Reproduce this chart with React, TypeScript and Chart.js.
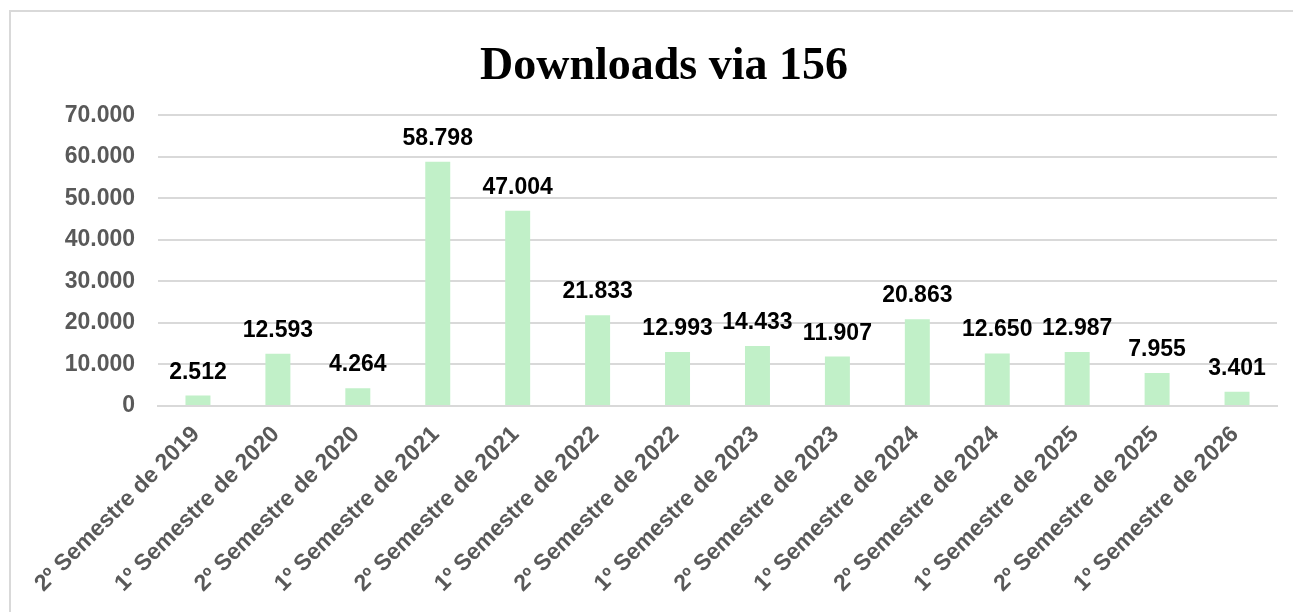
import React, { useEffect, useRef } from "react";
import { Chart, registerables } from "chart.js";

Chart.register(...registerables);

const TITLE = "Downloads via 156";
const categories = [
  "2º Semestre de 2019",
  "1º Semestre de 2020",
  "2º Semestre de 2020",
  "1º Semestre de 2021",
  "2º Semestre de 2021",
  "1º Semestre de 2022",
  "2º Semestre de 2022",
  "1º Semestre de 2023",
  "2º Semestre de 2023",
  "1º Semestre de 2024",
  "2º Semestre de 2024",
  "1º Semestre de 2025",
  "2º Semestre de 2025",
  "1º Semestre de 2026",
];
const downloads = [2512, 12593, 4264, 58798, 47004, 21833, 12993, 14433, 11907, 20863, 12650, 12987, 7955, 3401];
const yMin = 0;
const yMax = 70000;
const yStep = 10000;

const fmt = (v: number) => String(Math.round(v)).replace(/\B(?=(\d{3})+(?!\d))/g, ".");

const SANS = "'Liberation Sans', Arial, sans-serif";

const dataLabelPlugin = {
  id: "dataLabels",
  afterDatasetsDraw(chart: any) {
    const ctx = chart.ctx;
    const meta = chart.getDatasetMeta(0);
    const data = chart.data.datasets[0].data as number[];
    ctx.save();
    ctx.font = `bold 23px ${SANS}`;
    ctx.fillStyle = "#000000";
    ctx.textAlign = "center";
    ctx.textBaseline = "alphabetic";
    meta.data.forEach((bar: any, i: number) => {
      ctx.fillText(fmt(data[i]), bar.x, bar.y - 17);
    });
    ctx.restore();
  },
};

export default function App() {
  const ref = useRef<HTMLCanvasElement | null>(null);
  useEffect(() => {
    if (!ref.current) return;
    const chart = new Chart(ref.current, {
      type: "bar",
      data: {
        labels: categories,
        datasets: [
          {
            data: downloads,
            backgroundColor: "#c1f0c8",
            borderWidth: 0,
            barPercentage: 1,
            categoryPercentage: 0.3125,
          },
        ],
      },
      options: {
        animation: false,
        responsive: true,
        maintainAspectRatio: false,
        layout: { padding: { top: 0, left: 51, right: 16, bottom: 0 } },
        plugins: {
          legend: { display: false },
          tooltip: { enabled: false },
          title: {
            display: true,
            text: TITLE,
            color: "#000000",
            font: { family: "'Liberation Serif', 'Times New Roman', serif", size: 46, weight: "bold" },
            padding: { top: 40, bottom: 20 },
          },
        },
        scales: {
          x: {
            grid: { display: false, drawTicks: false },
            border: { display: true, color: "#d9d9d9", width: 2 },
            ticks: {
              color: "#595959",
              font: { family: SANS, size: 23, weight: "bold" },
              minRotation: 45,
              maxRotation: 45,
              autoSkip: false,
              padding: 15,
              labelOffset: -2,
            },
            afterFit: (scale: any) => {
              scale.height = 206;
              scale.paddingLeft = 0;
              scale.paddingRight = 0;
            },
          },
          y: {
            min: yMin,
            max: yMax,
            grid: { color: "#d9d9d9", lineWidth: 2, drawTicks: false },
            border: { display: false },
            ticks: {
              stepSize: yStep,
              color: "#595959",
              font: { family: SANS, size: 23, weight: "bold" },
              padding: 23,
              callback: (v: any) => fmt(Number(v)),
            },
            afterFit: (scale: any) => {
              scale.width = 107;
            },
          },
        },
      },
      plugins: [dataLabelPlugin],
    });
    return () => chart.destroy();
  }, []);

  return (
    <div
      style={{
        position: "fixed",
        left: 0,
        top: 0,
        width: 1293,
        height: 612,
        overflow: "hidden",
        background: "#ffffff",
      }}
    >
      <div
        style={{
          position: "absolute",
          left: 9,
          top: 10,
          width: 1320,
          height: 700,
          borderLeft: "2px solid #d9d9d9",
          borderTop: "2px solid #d9d9d9",
        }}
      />
      <div style={{ position: "absolute", left: 0, top: 0, width: 1293, height: 612 }}>
        <canvas ref={ref} />
      </div>
    </div>
  );
}
